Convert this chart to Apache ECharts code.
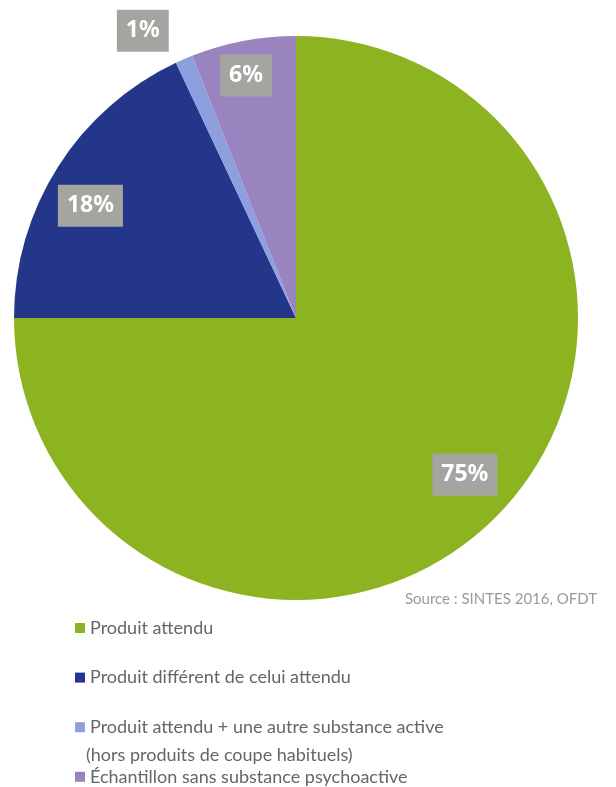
<!DOCTYPE html>
<html>
<head>
<meta charset="utf-8">
<script src="https://cdn.jsdelivr.net/npm/echarts@6/dist/echarts.min.js"></script>
<style>
  html, body { margin: 0; padding: 0; background: #ffffff; }
  #chart { width: 616px; height: 787px; }
</style>
</head>
<body>
<div id="chart"></div>
<script>
// Categories and shares (%) of the analysed samples
const categories = [
  'Produit attendu',
  'Produit différent de celui attendu',
  'Produit attendu + une autre substance active',
  'Échantillon sans substance psychoactive'
];
const shares = [75, 18, 1, 6];
const categoryNote = '(hors produits de coupe habituels)';
const sourceText = 'Source : SINTES 2016, OFDT';

// Styling
const colors = ['#8cb420', '#24368a', '#8e9fe0', '#9a84bf'];
const labelShift = [[67, 55], [-84, -35], [-96, -155], [-23, -101]];

const chart = echarts.init(document.getElementById('chart'), null, { renderer: 'canvas' });

const option = {
  animation: false,
  color: colors,
  legend: {
    orient: 'vertical',
    left: 70,
    top: 613,
    height: 400,
    itemWidth: 10,
    itemHeight: 10,
    itemGap: 29.6,
    icon: 'rect',
    textStyle: {
      fontFamily: 'Lato',
      fontSize: 18,
      lineHeight: 20,
      color: '#666666'
    },
    data: categories
  },
  graphic: [
    {
      type: 'text',
      left: 86,
      top: 746,
      style: {
        text: categoryNote,
        fontFamily: 'Lato',
        fontSize: 18,
        fill: '#666666'
      }
    },
    {
      type: 'text',
      right: 19,
      top: 592,
      style: {
        text: sourceText,
        fontFamily: 'Lato',
        fontSize: 15,
        fill: '#9a9a9a'
      }
    }
  ],
  series: [{
    type: 'pie',
    center: [296, 318],
    radius: [0, 282],
    startAngle: 90,
    clockwise: true,
    avoidLabelOverlap: false,
    itemStyle: { borderWidth: 0 },
    emphasis: { disabled: true },
    label: {
      show: true,
      position: 'inside',
      formatter: p => p.value + '%',
      fontFamily: 'Noto Sans',
      fontWeight: 'bold',
      fontSize: 23,
      lineHeight: 24,
      color: '#ffffff',
      backgroundColor: '#a4a4a0',
      padding: [9, 9, 9, 9]
    },
    labelLine: { show: false },
    data: categories.map((name, i) => ({
      name: name,
      value: shares[i],
      label: { offset: labelShift[i] }
    }))
  }]
};

chart.setOption(option);
</script>
</body>
</html>
